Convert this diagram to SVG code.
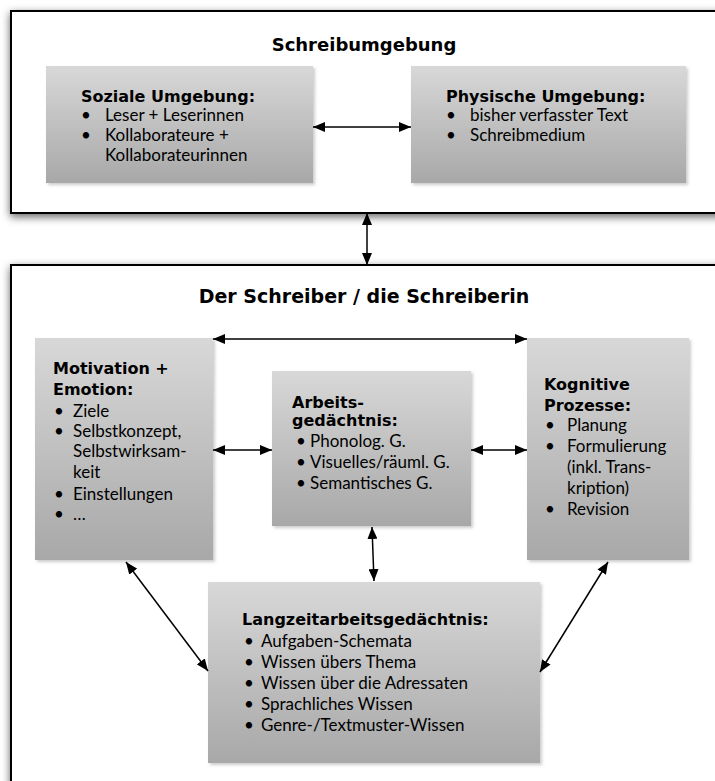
<svg xmlns="http://www.w3.org/2000/svg" width="715" height="781" viewBox="0 0 715 781">
<style>
.outer{fill:#fff;stroke:#000;stroke-width:2;filter:url(#outerShadow)}
.box{fill:url(#grey);filter:url(#boxShadow)}
.ttl{font-family:"DejaVu Sans","Liberation Sans",sans-serif;font-weight:bold;font-size:18px;fill:#000}
.hd{font-family:"DejaVu Sans","Liberation Sans",sans-serif;font-weight:bold;font-size:16px;fill:#000}
.tx{font-family:Lato,"Liberation Sans",sans-serif;font-size:17px;fill:#000}
.con{stroke:#000;stroke-width:1.5;fill:none;marker-start:url(#ah);marker-end:url(#ah)}
</style>
<defs>
<linearGradient id="grey" x1="0" y1="0" x2="0" y2="1">
<stop offset="0" stop-color="#d8d8d8"/>
<stop offset="1" stop-color="#a8a8a8"/>
</linearGradient>
<filter id="outerShadow" x="-5%" y="-10%" width="110%" height="125%">
<feDropShadow dx="0" dy="3" stdDeviation="4" flood-color="#000" flood-opacity="0.6"/>
</filter>
<filter id="boxShadow" x="-5%" y="-5%" width="115%" height="115%">
<feDropShadow dx="2" dy="2" stdDeviation="1.5" flood-color="#999" flood-opacity="0.5"/>
</filter>
<marker id="ah" viewBox="0 0 12 10" refX="12" refY="5" markerWidth="12" markerHeight="10" orient="auto-start-reverse" markerUnits="userSpaceOnUse">
<path d="M0,0 L12,5 L0,10 z" fill="#000"/>
</marker>
</defs>

<g id="schreibumgebung">
<rect class="outer" x="11" y="11" width="720" height="202"/>
<text class="ttl" x="364" y="51" text-anchor="middle">Schreibumgebung</text>
</g>

<g id="soziale-umgebung">
<rect class="box" x="46" y="66" width="267" height="117"/>
<text class="hd" x="81" y="102">Soziale Umgebung:</text>
<text class="tx" x="81" y="121">•</text><text class="tx" x="105" y="121">Leser + Leserinnen</text>
<text class="tx" x="81" y="141">•</text><text class="tx" x="105" y="141">Kollaborateure +</text>
<text class="tx" x="105" y="161">Kollaborateurinnen</text>
</g>

<g id="physische-umgebung">
<rect class="box" x="411" y="66" width="275" height="117"/>
<text class="hd" x="446" y="102">Physische Umgebung:</text>
<text class="tx" x="446" y="121">•</text><text class="tx" x="470" y="121">bisher verfasster Text</text>
<text class="tx" x="446" y="141">•</text><text class="tx" x="470" y="141">Schreibmedium</text>
</g>

<g id="schreiber">
<rect class="outer" x="11" y="265" width="720" height="540"/>
<text class="ttl" x="364" y="303" text-anchor="middle" style="font-size:19px">Der Schreiber / die Schreiberin</text>
</g>

<g id="motivation">
<rect class="box" x="35" y="338" width="178" height="222"/>
<text class="hd" x="53" y="374">Motivation +</text>
<text class="hd" x="53" y="395">Emotion:</text>
<text class="tx" x="54" y="417">•</text><text class="tx" x="73" y="417">Ziele</text>
<text class="tx" x="54" y="437">•</text><text class="tx" x="73" y="437">Selbstkonzept,</text>
<text class="tx" x="73" y="457">Selbstwirksam-</text>
<text class="tx" x="73" y="478">keit</text>
<text class="tx" x="54" y="500">•</text><text class="tx" x="73" y="500">Einstellungen</text>
<text class="tx" x="54" y="520">•</text><text class="tx" x="73" y="520">…</text>
</g>

<g id="arbeitsgedaechtnis">
<rect class="box" x="272" y="371" width="199" height="155"/>
<text class="hd" x="292" y="408">Arbeits-</text>
<text class="hd" x="292" y="426">gedächtnis:</text>
<text class="tx" x="296" y="447">•</text><text class="tx" x="310" y="447">Phonolog. G.</text>
<text class="tx" x="296" y="468">•</text><text class="tx" x="310" y="468">Visuelles/räuml. G.</text>
<text class="tx" x="296" y="489">•</text><text class="tx" x="310" y="489">Semantisches G.</text>
</g>

<g id="kognitive-prozesse">
<rect class="box" x="527" y="338" width="162" height="222"/>
<text class="hd" x="544" y="390">Kognitive</text>
<text class="hd" x="544" y="411">Prozesse:</text>
<text class="tx" x="545" y="431">•</text><text class="tx" x="567" y="431">Planung</text>
<text class="tx" x="545" y="452">•</text><text class="tx" x="567" y="452">Formulierung</text>
<text class="tx" x="567" y="473">(inkl. Trans-</text>
<text class="tx" x="567" y="494">kription)</text>
<text class="tx" x="545" y="515">•</text><text class="tx" x="567" y="515">Revision</text>
</g>

<g id="langzeitgedaechtnis">
<rect class="box" x="208" y="582" width="332" height="181"/>
<text class="hd" x="242" y="625">Langzeitarbeitsgedächtnis:</text>
<text class="tx" x="244" y="647">•</text><text class="tx" x="261" y="647">Aufgaben-Schemata</text>
<text class="tx" x="244" y="668">•</text><text class="tx" x="261" y="668">Wissen übers Thema</text>
<text class="tx" x="244" y="689">•</text><text class="tx" x="261" y="689">Wissen über die Adressaten</text>
<text class="tx" x="244" y="710">•</text><text class="tx" x="261" y="710">Sprachliches Wissen</text>
<text class="tx" x="244" y="731">•</text><text class="tx" x="261" y="731">Genre-/Textmuster-Wissen</text>
</g>

<g id="connectors">
<line class="con" x1="313" y1="127" x2="411" y2="127"/>
<line class="con" x1="367" y1="213" x2="367" y2="265"/>
<line class="con" x1="213" y1="339" x2="527" y2="339"/>
<line class="con" x1="213" y1="450" x2="272" y2="450"/>
<line class="con" x1="471" y1="450" x2="527" y2="450"/>
<line class="con" x1="372" y1="527" x2="374" y2="581"/>
<line class="con" x1="126" y1="562" x2="208" y2="671"/>
<line class="con" x1="608" y1="562" x2="540" y2="672"/>
</g>
</svg>
